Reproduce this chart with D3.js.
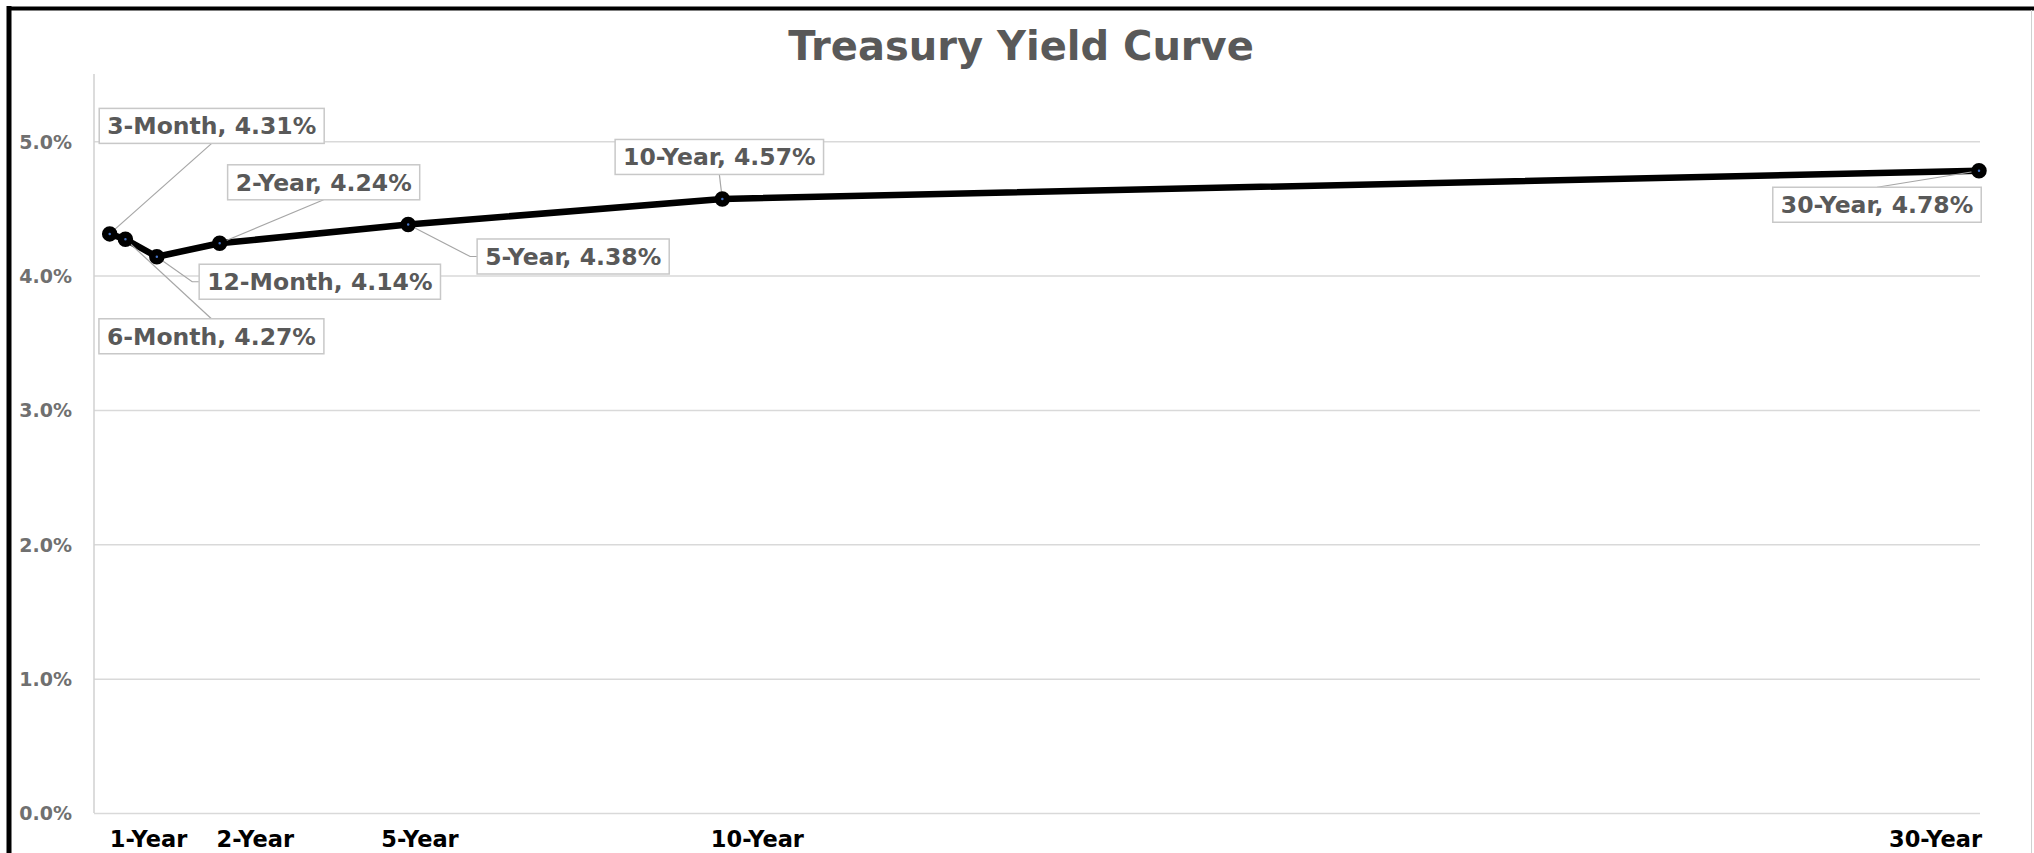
<!DOCTYPE html>
<html>
<head>
<meta charset="utf-8">
<script src="https://cdn.jsdelivr.net/npm/d3@7"></script>
<style>
    body { margin: 0; background: #fff; }
    #chart svg { display: block; }
</style>
</head>
<body>
<div id="chart"></div>
<script>
// maturities and yields (%)
const maturities = ["3-Month", "6-Month", "12-Month", "2-Year", "5-Year", "10-Year", "30-Year"];
const years = [0.25, 0.5, 1, 2, 5, 10, 30];
const yields = [4.31, 4.27, 4.14, 4.24, 4.38, 4.57, 4.78];

// x axis labels and where they sit (in years)
const tickLabels = ["1-Year", "2-Year", "5-Year", "10-Year", "30-Year"];
const tickAt = [0.86, 2.56, 5.18, 10.55, 29.3];
const yTicks = [0, 1, 2, 3, 4, 5];

// label box offsets from each point, px
const labelLayout = [
    { dx: 102, dy: -108, lead: "bottom" },
    { dx: 86, dy: 97, lead: "top" },
    { dx: 163, dy: 25, lead: "left" },
    { dx: 104, dy: -61, lead: "bottom" },
    { dx: 165, dy: 32, lead: "left" },
    { dx: -3, dy: -42, lead: "bottom" },
    { dx: -102, dy: 34, lead: "top" }
];

class YieldCurve {
    constructor(parentElement) {
        this.parentElement = parentElement;
        this.initVis();
    }

    initVis() {
        let vis = this;

        vis.width = 2034;
        vis.height = 853;

        vis.svg = d3.select("#" + vis.parentElement)
            .append("svg")
            .attr("width", vis.width)
            .attr("height", vis.height)
            .style("font-family", "'DejaVu Sans', sans-serif")
            .style("font-weight", "bold");

        // frame
        vis.svg.append("line")
            .attr("x1", 9).attr("x2", 9).attr("y1", 6).attr("y2", vis.height)
            .attr("stroke", "#000").attr("stroke-width", 5);
        vis.svg.append("line")
            .attr("x1", 7).attr("x2", vis.width).attr("y1", 8.5).attr("y2", 8.5)
            .attr("stroke", "#000").attr("stroke-width", 4);
        vis.svg.append("line")
            .attr("x1", 2031.5).attr("x2", 2031.5).attr("y1", 10).attr("y2", vis.height)
            .attr("stroke", "#d0d0d0").attr("stroke-width", 1);

        vis.x = d3.scaleLinear().domain([0, 30]).range([94, 1979]);
        vis.y = d3.scaleLinear().domain([0, 5.5]).range([813, 74]);

        vis.svg.append("text")
            .attr("x", 1021)
            .attr("y", 60)
            .attr("text-anchor", "middle")
            .style("font-size", "40px")
            .style("fill", "#595959")
            .text("Treasury Yield Curve");

        vis.wrangleData();
    }

    wrangleData() {
        let vis = this;

        vis.displayData = maturities.map((m, i) => ({
            name: m,
            years: years[i],
            value: yields[i],
            layout: labelLayout[i]
        }));

        vis.updateVis();
    }

    updateVis() {
        let vis = this;

        // gridlines
        vis.svg.append("g")
            .attr("class", "grid")
            .attr("transform", `translate(${vis.x(0)},0)`)
            .call(d3.axisLeft(vis.y).tickValues(yTicks).tickSize(-(vis.x(30) - vis.x(0)) - 1).tickFormat(""))
            .call(g => g.select(".domain").remove())
            .call(g => g.selectAll("line").attr("stroke", "#d9d9d9").attr("stroke-width", 1.5));

        // y axis line
        vis.svg.append("line")
            .attr("x1", vis.x(0)).attr("x2", vis.x(0))
            .attr("y1", vis.y(5.5)).attr("y2", vis.y(0))
            .attr("stroke", "#d0d0d0").attr("stroke-width", 1.5);

        // y labels
        vis.svg.append("g")
            .attr("transform", "translate(72,0)")
            .call(d3.axisLeft(vis.y).tickValues(yTicks).tickSize(0).tickPadding(0).tickFormat(d => d.toFixed(1) + "%"))
            .call(g => g.select(".domain").remove())
            .call(g => g.selectAll("text")
                .attr("dy", "0.36em")
                .style("font-family", "'DejaVu Sans', sans-serif")
                .style("font-weight", "bold")
                .style("font-size", "19px")
                .style("fill", "#707070"));

        // x labels
        vis.svg.append("g")
            .attr("transform", `translate(0,${vis.y(0)})`)
            .call(d3.axisBottom(vis.x).tickValues(tickAt).tickSize(0).tickPadding(0).tickFormat((d, i) => tickLabels[i]))
            .call(g => g.select(".domain").remove())
            .call(g => g.selectAll("text")
                .attr("y", 34)
                .attr("dy", 0)
                .style("font-family", "'DejaVu Sans', sans-serif")
                .style("font-weight", "bold")
                .style("font-size", "22.5px")
                .style("fill", "#000"));

        // the curve
        let line = d3.line()
            .x(d => vis.x(d.years))
            .y(d => vis.y(d.value));

        vis.svg.append("path")
            .datum(vis.displayData)
            .attr("d", line)
            .attr("fill", "none")
            .attr("stroke", "#000")
            .attr("stroke-width", 6.5)
            .attr("stroke-linejoin", "round");

        // data labels with leader lines
        let labels = vis.svg.selectAll(".data-label")
            .data(vis.displayData)
            .enter()
            .append("g")
            .attr("class", "data-label");

        labels.each(function (d) {
            const g = d3.select(this);
            const px = vis.x(d.years);
            const py = vis.y(d.value);
            const cx = px + d.layout.dx;
            const cy = py + d.layout.dy;

            const leader = g.append("path")
                .attr("fill", "none")
                .attr("stroke", "#a6a6a6")
                .attr("stroke-width", 1.2);

            const rect = g.append("rect");
            const text = g.append("text")
                .attr("x", cx)
                .attr("y", cy + 8.5)
                .attr("text-anchor", "middle")
                .style("font-size", "23.5px")
                .style("fill", "#595959")
                .text(`${d.name}, ${d.value.toFixed(2)}%`);

            const w = text.node().getComputedTextLength() + 16;
            const h = 35;
            rect.attr("x", cx - w / 2)
                .attr("y", cy - h / 2)
                .attr("width", w)
                .attr("height", h)
                .attr("fill", "#fff")
                .attr("stroke", "#c8c8c8")
                .attr("stroke-width", 1.5);

            let pathD;
            if (d.layout.lead === "bottom") {
                pathD = `M${px},${py}L${cx},${cy + h / 2}`;
            } else if (d.layout.lead === "top") {
                pathD = `M${px},${py}L${cx},${cy - h / 2}`;
            } else {
                pathD = `M${px},${py}L${cx - w / 2 - 7},${cy}L${cx - w / 2},${cy}`;
            }
            leader.attr("d", pathD);
        });

        // markers
        vis.svg.selectAll(".marker")
            .data(vis.displayData)
            .enter()
            .append("circle")
            .attr("class", "marker")
            .attr("cx", d => vis.x(d.years))
            .attr("cy", d => vis.y(d.value))
            .attr("r", 4.5)
            .attr("fill", "#4472c4")
            .attr("stroke", "#000")
            .attr("stroke-width", 6.5);
    }
}

new YieldCurve("chart");
</script>
</body>
</html>
